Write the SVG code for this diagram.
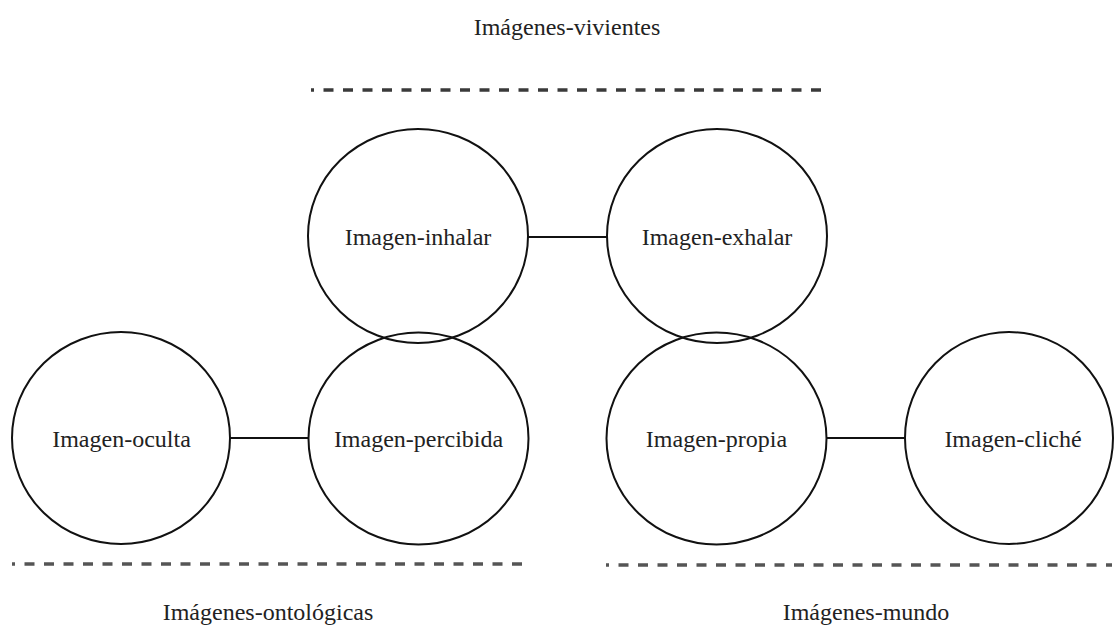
<svg xmlns="http://www.w3.org/2000/svg" width="1115" height="628" viewBox="0 0 1115 628">
<style>
.node ellipse{fill:#fff;stroke:#111;stroke-width:2}
.node .ring{fill:none}
.lbl{font-family:"Liberation Serif","Times New Roman",serif;font-size:24px;fill:#222;text-anchor:middle}
.conn line{stroke:#111;stroke-width:2}
.sep{stroke:#555;stroke-width:3.5;stroke-dasharray:10 9.5;fill:none}
</style>
<rect width="1115" height="628" fill="#fff"/>
<line class="sep" x1="311" y1="90" x2="823" y2="90" stroke-dashoffset="7" style="stroke:#3a3a3a"/>
<line class="sep" x1="12" y1="564" x2="530" y2="564" stroke-dashoffset="7"/>
<line class="sep" x1="606" y1="565" x2="1112" y2="565" stroke-dashoffset="7"/>
<g class="conn">
<line x1="528" y1="237" x2="607" y2="237"/>
<line x1="230" y1="438" x2="309" y2="438"/>
<line x1="826" y1="438" x2="905" y2="438"/>
</g>
<g id="percibida" class="node"><ellipse cx="418.5" cy="438.5" rx="110" ry="106"/><text class="lbl" x="418.5" y="447">Imagen-percibida</text></g>
<g id="propia" class="node"><ellipse cx="716.5" cy="438.5" rx="110" ry="106"/><text class="lbl" x="716.5" y="447">Imagen-propia</text></g>
<g id="inhalar" class="node"><ellipse class="ring" cx="418" cy="236" rx="110" ry="107"/><text class="lbl" x="418" y="245">Imagen-inhalar</text></g>
<g id="exhalar" class="node"><ellipse class="ring" cx="717" cy="236" rx="110" ry="107"/><text class="lbl" x="717" y="245">Imagen-exhalar</text></g>
<g id="oculta" class="node"><ellipse cx="121" cy="438" rx="109" ry="106"/><text class="lbl" x="121.5" y="447">Imagen-oculta</text></g>
<g id="cliche" class="node"><ellipse cx="1009" cy="438" rx="104" ry="106"/><text class="lbl" x="1013" y="447">Imagen-cliché</text></g>
<text class="lbl" x="567" y="35">Imágenes-vivientes</text>
<text class="lbl" x="268" y="620">Imágenes-ontológicas</text>
<text class="lbl" x="866" y="620">Imágenes-mundo</text>
</svg>
